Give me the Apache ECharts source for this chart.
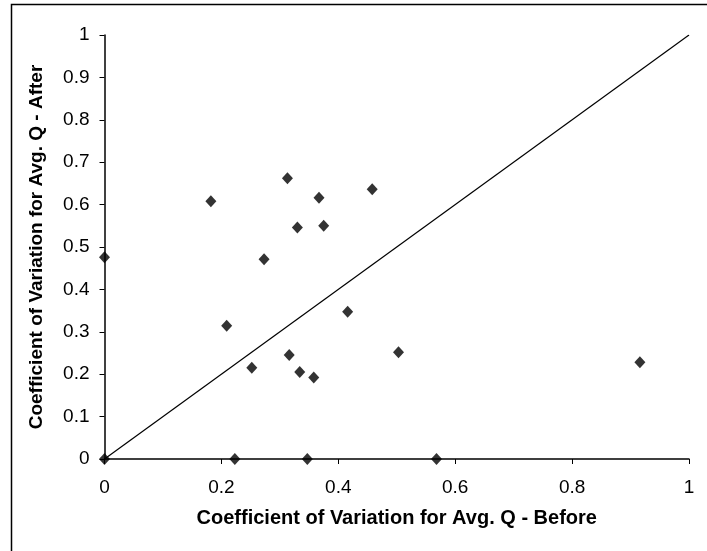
<!DOCTYPE html>
<html>
<head>
<meta charset="utf-8">
<script src="https://cdn.jsdelivr.net/npm/echarts@6/dist/echarts.min.js"></script>
<style>
html,body{margin:0;padding:0;background:#fff;}
#chart{width:707px;height:551px;}
</style>
</head>
<body>
<div id="chart"></div>
<script>
var beforeCV = [0, 0, 0.182, 0.313, 0.367, 0.330, 0.375, 0.273, 0.458, 0.209, 0.252, 0.316, 0.334, 0.358, 0.416, 0.503, 0.223, 0.347, 0.568, 0.916];
var afterCV  = [0, 0.476, 0.608, 0.662, 0.616, 0.546, 0.550, 0.471, 0.636, 0.314, 0.215, 0.245, 0.205, 0.192, 0.347, 0.252, 0, 0, 0, 0.228];
var diagonalX = [0, 1];
var diagonalY = [0, 1];
var xTickLabels = ['0', '0.2', '0.4', '0.6', '0.8', '1'];
var yTickLabels = ['0', '0.1', '0.2', '0.3', '0.4', '0.5', '0.6', '0.7', '0.8', '0.9', '1'];
var xTitle = 'Coefficient of Variation for Avg. Q - Before';
var yTitle = 'Coefficient of Variation for Avg. Q - After';

var points = beforeCV.map(function (x, i) { return [x, afterCV[i]]; });
var diag = diagonalX.map(function (x, i) { return [x, diagonalY[i]]; });

var chart = echarts.init(document.getElementById('chart'), null, {renderer: 'canvas'});
var font = 'Liberation Sans, Arial, sans-serif';
chart.setOption({
  animation: false,
  backgroundColor: '#fff',
  graphic: [{
    type: 'rect',
    shape: {x: 11.5, y: 4.5, width: 720, height: 560},
    style: {fill: 'none', stroke: '#000', lineWidth: 1.5},
    silent: true
  }],
  grid: {left: 104.5, right: 18, top: 35, bottom: 92},
  xAxis: {
    type: 'value', min: 0, max: 1, interval: 0.2,
    name: xTitle, nameLocation: 'middle', nameGap: 49,
    nameTextStyle: {fontFamily: font, fontSize: 20, fontWeight: 'bold', color: '#000'},
    axisLine: {show: true, onZero: false, lineStyle: {color: '#000', width: 1.5}},
    axisTick: {show: true, inside: false, length: 5, lineStyle: {color: '#000', width: 1}},
    axisLabel: {margin: 19, fontFamily: font, fontSize: 19, color: '#000',
      formatter: function (v) { return xTickLabels[Math.round(v / 0.2)]; }},
    splitLine: {show: false}
  },
  yAxis: {
    type: 'value', min: 0, max: 1, interval: 0.1,
    name: yTitle, nameLocation: 'middle', nameGap: 58, nameRotate: 90,
    nameTextStyle: {fontFamily: font, fontSize: 19, fontWeight: 'bold', color: '#000'},
    axisLine: {show: true, onZero: false, lineStyle: {color: '#000', width: 1.5}},
    axisTick: {show: true, inside: false, length: 5, lineStyle: {color: '#000', width: 1}},
    axisLabel: {margin: 15, fontFamily: font, fontSize: 19, color: '#000',
      formatter: function (v) { return yTickLabels[Math.round(v / 0.1)]; }},
    splitLine: {show: false}
  },
  series: [{
    type: 'line',
    data: diag,
    symbol: 'none',
    lineStyle: {color: '#000', width: 1.2},
    silent: true,
    z: 3
  }, {
    type: 'scatter',
    data: points,
    symbol: 'diamond',
    symbolSize: [11, 12],
    itemStyle: {color: '#000'},
    clip: false,
    z: 4
  }]
});
</script>
</body>
</html>
